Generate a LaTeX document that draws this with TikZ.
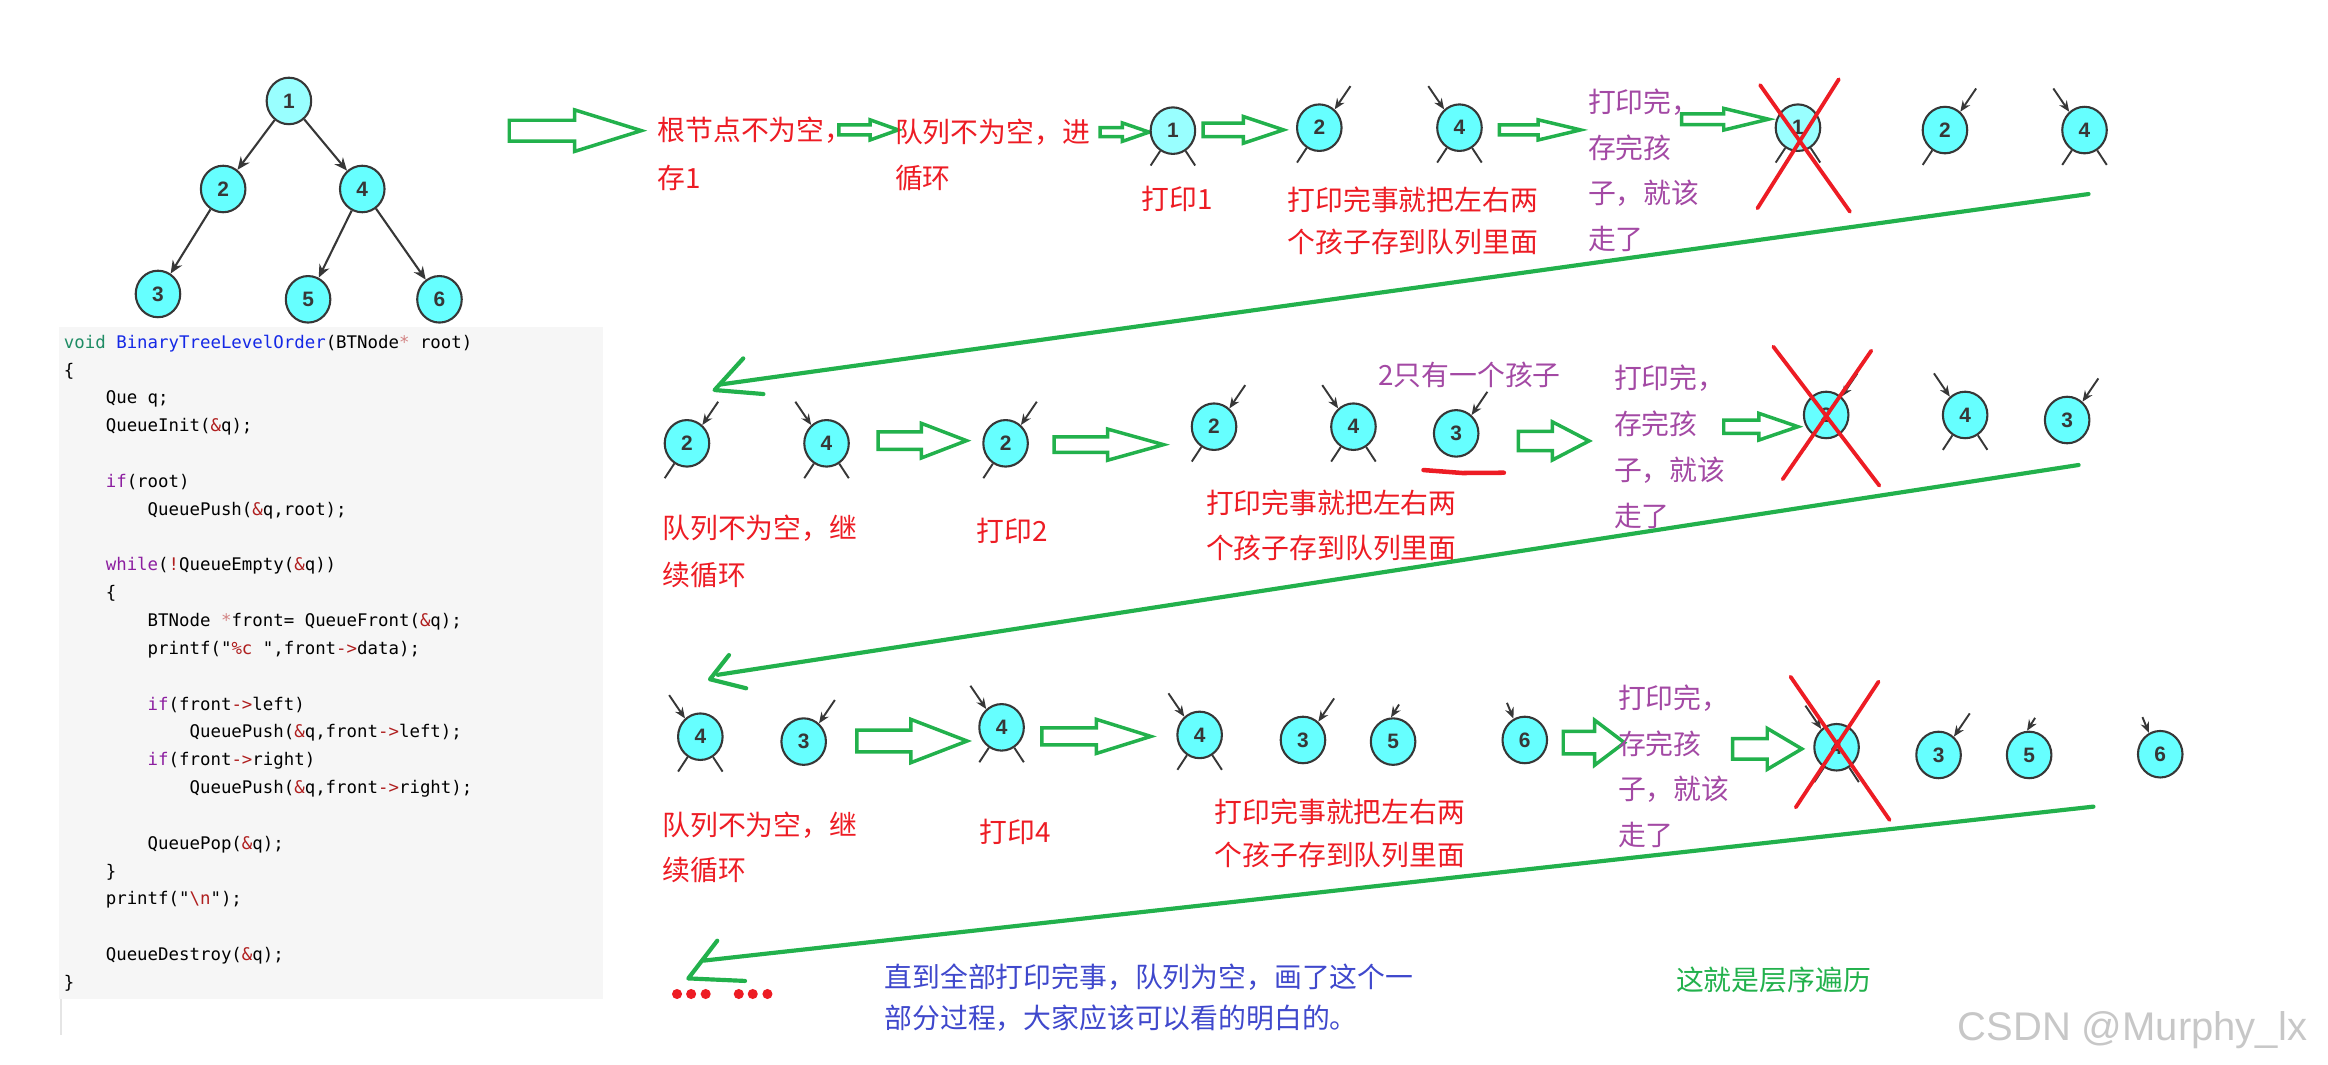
\documentclass[tikz,border=0pt]{standalone}
\usepackage{fontspec}
\setmainfont{Liberation Sans}
\setmonofont{DejaVu Sans Mono}
\newfontfamily\cjk{Noto Sans CJK SC}
\usepackage{tikz}
\usepackage{xcolor}
\usetikzlibrary{shapes.geometric, arrows.meta, positioning, calc}
\definecolor{cGreen}{RGB}{34,177,76}
\definecolor{cRed}{RGB}{237,28,36}
\definecolor{cPurple}{RGB}{163,73,164}
\definecolor{cBlue}{RGB}{63,72,204}
\definecolor{cCyan}{RGB}{102,255,255}
\definecolor{cCyanL}{RGB}{153,255,255}
\definecolor{cNode}{RGB}{55,55,55}
\definecolor{cCodeBg}{RGB}{246,246,246}
\definecolor{cType}{RGB}{30,140,100}
\definecolor{cFn}{RGB}{20,40,230}
\definecolor{cKw}{RGB}{140,30,160}
\definecolor{cStr}{RGB}{175,30,30}
\tikzset{
	tnode/.style    ={ellipse, draw=cNode, line width=0.6pt, fill=cCyan, minimum width=4.5mm, minimum height=4.7mm, inner sep=0pt, text=cNode, font=\bfseries\fontsize{6}{6}\selectfont},
	tnodeone/.style ={tnode, fill=cCyanL},
	tedge/.style    ={cNode, line width=0.6pt, -{Stealth[length=1.3mm, width=1.1mm]}},
	inarr/.style    ={cNode, line width=0.55pt, -{Stealth[length=1.1mm, width=0.9mm]}},
	leg/.style      ={cNode, line width=0.55pt},
	% green marks
	hollow/.style   ={cGreen, line width=1pt, line join=miter},
	retline/.style  ={cGreen, line width=1.2pt, line cap=round, line join=round},
	redcross/.style ={cRed, line width=1.1pt, line cap=round},
	% texts (placed at the baseline of their last line)
	code/.style     ={font=\ttfamily\fontsize{5}{8}\selectfont, align=left, inner sep=0pt, anchor=base west},
	txt/.style      ={font=\cjk\fontsize{8}{#1}\selectfont, align=left, inner sep=0pt, anchor=base west},
	txt/.default=13,
	redtxt/.style   ={txt=#1, text=cRed},
	redtxt/.default=13,
	purtxt/.style   ={txt=#1, text=cPurple},
	purtxt/.default=13,
	bluetxt/.style  ={txt=#1, text=cBlue},
	bluetxt/.default=13,
	greentxt/.style ={txt=#1, text=cGreen},
	greentxt/.default=13,
	wmark/.style    ={font=\fontsize{11.5}{12}\selectfont, text=black!22, inner sep=0pt, anchor=base west},
}
% hollow arrow: tail x, head start x, tip x, centre y, head half height
\newcommand{\garrow}[5]{\draw[hollow] (#1,{#4-0.5*#5}) -- (#2,{#4-0.5*#5}) -- (#2,{#4-#5}) -- (#3,#4) -- (#2,{#4+#5}) -- (#2,{#4+0.5*#5}) -- (#1,{#4+0.5*#5}) -- cycle;}
% stubs of the cut tree
\newcommand{\inR}[1]{\draw[inarr] ($(#1)+(21,-28)$) -- (#1.50);}
\newcommand{\inL}[1]{\draw[inarr] ($(#1)+(-21,-28)$) -- (#1.130);}
\newcommand{\inT}[1]{\draw[inarr] ($(#1)+(4,-25)$) -- (#1.95);}
\newcommand{\inTL}[1]{\draw[inarr] ($(#1)+(-12,-25)$) -- (#1.118);}
\newcommand{\legL}[1]{\draw[leg] (#1.238) -- ($(#1)+(-15,23.5)$);}
\newcommand{\legR}[1]{\draw[leg] (#1.302) -- ($(#1)+(15,23.5)$);}
\newcommand{\ctab}{\hspace*{4\fontcharwd\font`\x}}

\begin{document}
\begin{tikzpicture}[x=0.15mm, y=-0.15mm]
	\useasboundingbox (0,0) rectangle (1568,717);
	% ---- tree ----
	\node[tnodeone] (t1) at (194.6,68) {1};
	\node[tnode] (t2) at (150.3,127.3) {2};
	\node[tnode] (t4) at (244,127.3) {4};
	\node[tnode] (t3) at (106.4,198) {3};
	\node[tnode] (t5) at (207.5,201.6) {5};
	\node[tnode] (t6) at (296,201.6) {6};
	\draw[tedge] (t1) -- (t2);
	\draw[tedge] (t1) -- (t4);
	\draw[tedge] (t2) -- (t3);
	\draw[tedge] (t4) -- (t5);
	\draw[tedge] (t4) -- (t6);
	% ---- code ----
	\fill[cCodeBg] (40,220) rectangle (406,673);
	\draw[black!10, line width=0.6pt] (41,673) -- (41,697);
	\node[code] (code) at (42.6,665.7) {%
		\textcolor{cType}{void} \textcolor{cFn}{BinaryTreeLevelOrder}(BTNode\textcolor{cStr!55}{*} root)\\
		\{\\
		\ctab Que q;\\
		\ctab QueueInit(\textcolor{cStr}{\&}q);\\[8pt]
		\ctab \textcolor{cKw}{if}(root)\\
		\ctab\ctab QueuePush(\textcolor{cStr}{\&}q,root);\\[8pt]
		\ctab \textcolor{cKw}{while}(\textcolor{cStr}{!}QueueEmpty(\textcolor{cStr}{\&}q))\\
		\ctab \{\\
		\ctab\ctab BTNode \textcolor{cStr!55}{*}front= QueueFront(\textcolor{cStr}{\&}q);\\
		\ctab\ctab printf("\textcolor{cStr}{\%c }",front\textcolor{cStr}{->}data);\\[8pt]
		\ctab\ctab \textcolor{cKw}{if}(front\textcolor{cStr}{->}left)\\
		\ctab\ctab\ctab QueuePush(\textcolor{cStr}{\&}q,front\textcolor{cStr}{->}left);\\
		\ctab\ctab \textcolor{cKw}{if}(front\textcolor{cStr}{->}right)\\
		\ctab\ctab\ctab QueuePush(\textcolor{cStr}{\&}q,front\textcolor{cStr}{->}right);\\[8pt]
		\ctab\ctab QueuePop(\textcolor{cStr}{\&}q);\\
		\ctab \}\\
		\ctab printf("\textcolor{cStr}{\textbackslash n}");\\[8pt]
		\ctab QueueDestroy(\textcolor{cStr}{\&}q);\\
		\}};
	% ---- row 1 ----
	\garrow{343}{387}{432}{88}{14}
	\node[redtxt=13.9] (s1) at (442.4,127.2) {根节点不为空，\\存1};
	\garrow{565}{586}{605}{87.5}{6.8}
	\node[redtxt=13.3] (s2) at (602.4,126.9) {队列不为空，进\\循环};
	\garrow{741}{756}{774}{89}{6.2}
	\node[tnodeone] (r1a) at (790,88) {1};
	\legL{r1a} \legR{r1a}
	\node[redtxt] (s3) at (768.6,141.3) {打印1};
	\garrow{810.4}{837.5}{864.5}{87.5}{9}
	\node[tnode] (r1b) at (888.6,86) {2};
	\inR{r1b} \legL{r1b}
	\node[tnode] (r1c) at (983,86) {4};
	\inL{r1c} \legL{r1c} \legR{r1c}
	\node[redtxt=12] (s4) at (866.8,169.8) {打印完事就把左右两\\个孩子存到队列里面};
	\garrow{1009.8}{1036}{1064.6}{87.5}{6.8}
	\node[purtxt=13.2] (s5) at (1069.1,168.3) {打印完，\\存完孩\\子，就该\\走了};
	\garrow{1132.6}{1161}{1191.2}{80.3}{7.3}
	\node[tnodeone] (r1d) at (1211,86) {1};
	\legL{r1d} \legR{r1d}
	\node[tnode] (r1e) at (1310,87.6) {2};
	\inR{r1e} \legL{r1e}
	\node[tnode] (r1f) at (1404,87.6) {4};
	\inL{r1f} \legL{r1f} \legR{r1f}
	\draw[redcross] (1185.5,57.3) -- (1246,142.6);
	\draw[redcross] (1238.5,53.4) -- (1183.7,140.3);
	\coordinate (g1s) at (1406.7,130.7);
	\coordinate (g1e) at (485,259);
	\draw[retline] (g1s) -- (g1e);
	\draw[retline] (500.6,241.4) -- (481.3,262.7) -- (514.2,265.4);
	% ---- row 2 ----
	\node[tnode] (r2a) at (462.7,298.6) {2};
	\inR{r2a} \legL{r2a}
	\node[tnode] (r2b) at (556.7,298.6) {4};
	\inL{r2b} \legL{r2b} \legR{r2b}
	\node[redtxt=13.4] (u1) at (445.7,394.2) {队列不为空，继\\续循环};
	\garrow{591.5}{620.5}{651}{296.8}{11.7}
	\node[tnode] (r2c) at (677.3,298.6) {2};
	\inR{r2c} \legL{r2c}
	\node[redtxt] (u2) at (657.2,364.4) {打印2};
	\garrow{710}{746}{783.7}{299.5}{10.5}
	\node[tnode] (r2d) at (817.7,287.4) {2};
	\inR{r2d} \legL{r2d}
	\node[tnode] (r2e) at (911.6,287.4) {4};
	\inL{r2e} \legL{r2e} \legR{r2e}
	\node[tnode] (r2f) at (980.8,291.9) {3};
	\inR{r2f}
	\draw[cRed, line width=1.3pt, line cap=round] (958.8,316.6) -- (985,318.6) -- (1012.9,318.4);
	\node[purtxt] (u4) at (927.9,259.6) {2只有一个孩子};
	\node[redtxt=12.9] (u3) at (811.9,376.2) {打印完事就把左右两\\个孩子存到队列里面};
	\garrow{1022.7}{1045.5}{1070.3}{297}{12.9}
	\node[purtxt=13.2] (u5) at (1086.7,354.6) {打印完，\\存完孩\\子，就该\\走了};
	\garrow{1161}{1184.7}{1211}{287.4}{9}
	\node[tnode] (r2g) at (1230,279.5) {2};
	\inR{r2g} \legL{r2g}
	\node[tnode] (r2h) at (1323.6,279.5) {4};
	\inL{r2h} \legL{r2h} \legR{r2h}
	\node[tnode] (r2i) at (1392.3,282.9) {3};
	\inR{r2i}
	\draw[redcross] (1194.4,233.5) -- (1265.8,327.1);
	\draw[redcross] (1260.4,236.2) -- (1200.7,322.8);
	\coordinate (g2s) at (1400,313.2);
	\coordinate (g2e) at (483.5,454.5);
	\draw[retline] (g2s) -- (g2e);
	\draw[retline] (491,441.2) -- (478.2,457.5) -- (502.6,463.6);
	% ---- row 3 ----
	\node[tnode] (r3a) at (471.7,496.2) {4};
	\inL{r3a} \legL{r3a} \legR{r3a}
	\node[tnode] (r3b) at (541.3,499.5) {3};
	\inR{r3b}
	\node[redtxt=12.9] (v1) at (445.7,592.9) {队列不为空，继\\续循环};
	\garrow{577.2}{613.5}{651.4}{499.1}{14.6}
	\node[tnode] (r3c) at (674.6,489.9) {4};
	\inL{r3c} \legL{r3c} \legR{r3c}
	\node[redtxt] (v2) at (659.2,567.2) {打印4};
	\garrow{701.7}{738.4}{775.2}{496}{11.5}
	\node[tnode] (r3d) at (808,495) {4};
	\inL{r3d} \legL{r3d} \legR{r3d}
	\node[tnode] (r3e) at (877.6,498.4) {3};
	\inR{r3e}
	\node[tnode] (r3f) at (938.3,499.5) {5};
	\inT{r3f}
	\node[tnode] (r3g) at (1027,498.4) {6};
	\inTL{r3g}
	\node[redtxt=12.4] (v3) at (817.7,582.75) {打印完事就把左右两\\个孩子存到队列里面};
	\garrow{1052.9}{1074}{1094.1}{500.2}{15.2}
	\node[purtxt=13.1] (v4) at (1089.4,569.4) {打印完，\\存完孩\\子，就该\\走了};
	\garrow{1167}{1190.3}{1213.6}{504.4}{13.8}
	\node[tnode] (r3h) at (1237,503.3) {4};
	\inL{r3h} \legL{r3h} \legR{r3h}
	\node[tnode] (r3i) at (1305.7,508.5) {3};
	\inR{r3i}
	\node[tnode] (r3j) at (1366.7,508.5) {5};
	\inT{r3j}
	\node[tnode] (r3k) at (1455,508) {6};
	\inTL{r3k}
	\draw[redcross] (1206,455.8) -- (1272.7,552.3);
	\draw[redcross] (1265.3,459.1) -- (1209.5,543.8);
	\coordinate (g3s) at (1410,543.3);
	\coordinate (g3e) at (474,647);
	\draw[retline] (g3s) -- (g3e);
	\draw[retline] (483.1,633.6) -- (463.6,659) -- (501.8,660.7);
	% ---- bottom ----
	\foreach \x in {456,465.5,475.3,497.6,507,516.9}
		\fill[cRed] (\x,669.5) circle (3.4);
	\node[bluetxt=12] (w1) at (595.3,692.9) {直到全部打印完事，队列为空，画了这个一\\部分过程，大家应该可以看的明白的。};
	\node[greentxt] (w2) at (1128.4,667) {这就是层序遍历};
	\node[wmark] (w3) at (1318,701) {CSDN @Murphy\_lx};
\end{tikzpicture}
\end{document}
